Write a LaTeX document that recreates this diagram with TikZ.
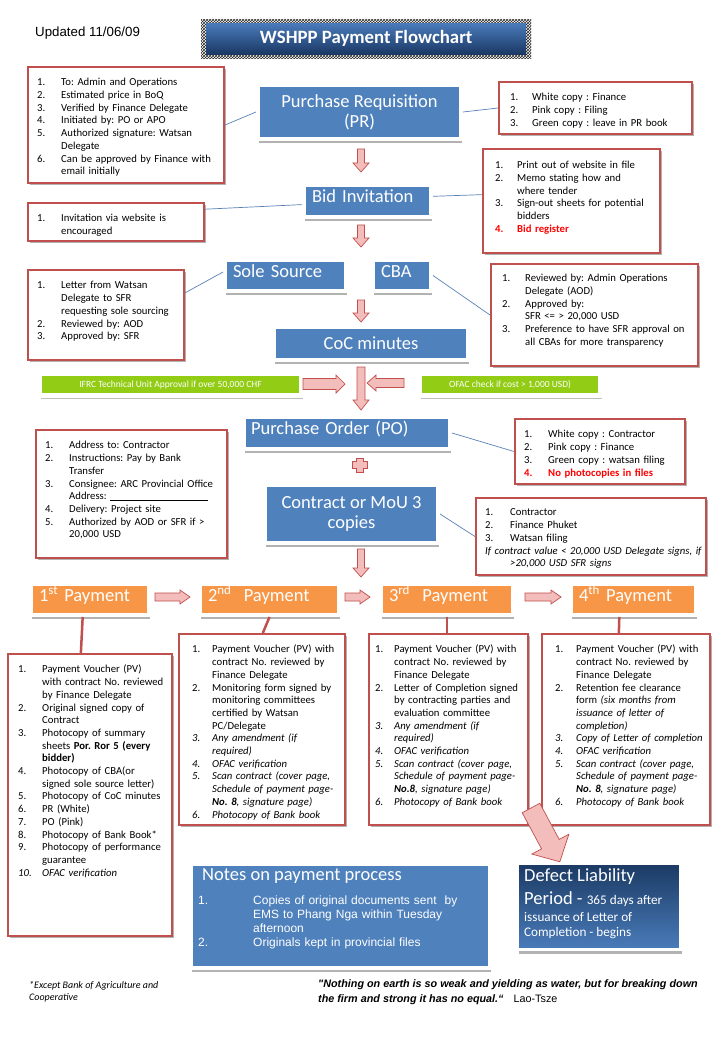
\documentclass[tikz,border=0pt]{standalone}
\usepackage{fontspec}
\setmainfont{Carlito}
\newfontfamily\arialf{Liberation Sans}
\usetikzlibrary{shadows,patterns,calc}

\definecolor{boxblue}{HTML}{4F81BD}
\definecolor{redline}{HTML}{C0504D}
\definecolor{payorange}{HTML}{F79646}
\definecolor{limegreen}{RGB}{146,204,20}
\definecolor{arrowpink}{HTML}{F3BDBC}
\definecolor{navy}{HTML}{1B3A63}
\definecolor{defbot}{HTML}{4A7CBB}
\definecolor{titletop}{HTML}{4A7BBB}
\definecolor{titlebot}{HTML}{1A3864}
\definecolor{redtext}{HTML}{FF0000}
\definecolor{connblue}{HTML}{5A82B8}

\newlength\itmw
\setlength\itmw{24pt}
\newcommand{\itm}[2]{\par\hangindent=\itmw\hangafter=1\noindent\makebox[\itmw][l]{#1}#2}
\newcommand{\cont}[1]{\par\hangindent=\itmw\hangafter=1\noindent #1}

% name, x, y, angle, length, half shaft, half head, head length
\newcommand{\barrow}[8]{%
\begin{scope}[shift={(#2,#3)},rotate=#4]
\filldraw[pinkarrow] (0,-#6) -- ({#5-#8},-#6) -- ({#5-#8},-#7) -- (#5,0) -- ({#5-#8},#7) -- ({#5-#8},#6) -- (0,#6) -- cycle;
\coordinate (#1) at (#5,0);
\end{scope}}

\begin{document}
\frenchspacing
\begin{tikzpicture}[x=1pt,y=-1pt,
  pinkarrow/.style={fill=arrowpink, draw=redline, line width=0.7pt, line join=miter},
  redbox/.style={draw=redline, line width=2pt, fill=white, anchor=north west, inner sep=0,
     drop shadow={shadow xshift=2pt,shadow yshift=-2pt,opacity=0.3,fill=black}},
  listtxt/.style={anchor=north west, inner sep=0, text width=250pt, align=left,
     font=\fontsize{10.7}{12.7}\selectfont},
  bluebox/.style={draw=white, line width=4pt, fill=boxblue, text=white, anchor=north west, inner sep=0,
     font=\fontsize{18.5}{20}\selectfont,
     drop shadow={shadow xshift=1pt,shadow yshift=-4pt,opacity=0.3,fill=black}},
  leftbox/.style={bluebox, align=left, inner xsep=8pt, text height=13pt, text depth=10pt},
  paybox/.style={leftbox, fill=payorange},
  greenbox/.style={draw=white, line width=5pt, fill=limegreen, text=white, anchor=north west, inner sep=0,
     font=\fontsize{9.5}{11}\selectfont,
     drop shadow={shadow xshift=1pt,shadow yshift=-3pt,opacity=0.25,fill=black}},
  conn/.style={draw=connblue, line width=0.7pt},
  paylink/.style={draw=redline, line width=2.5pt}
]
\useasboundingbox (0,0) rectangle (720,1040);
\fill[white] (0,0) rectangle (720,1040);

% header
\node[anchor=base west, inner sep=0, font=\arialf\fontsize{13.3}{15}\selectfont] (upd) at (35,37) {Updated 11/06/09};
\node[anchor=north west, inner sep=0, minimum width=330pt, minimum height=39pt,
      preaction={fill=white}, pattern=crosshatch, pattern color=black!85] (tframe) at (201,19) {};
\node[anchor=north west, inner sep=0, minimum width=320pt, minimum height=31pt,
      top color=titletop, bottom color=titlebot, text=white,
      font=\bfseries\fontsize{18.8}{20}\selectfont] (title) at (206,23) {WSHPP Payment Flowchart};

% red note boxes
\node[redbox, minimum width=196pt, minimum height=116pt] (b1) at (27,66) {};
\node[listtxt] (b1t) at (37,73) {%
\itm{1.}{To: Admin and Operations}
\itm{2.}{Estimated price in BoQ}
\itm{3.}{Verified by Finance Delegate}
\itm{4.}{Initiated by: PO or APO}
\itm{5.}{Authorized signature: Watsan\newline Delegate}
\itm{6.}{Can be approved by Finance with\newline email initially}\par};

\node[redbox, minimum width=193pt, minimum height=52pt] (rb1) at (498,81) {};
\node[listtxt] (rb1t) at (510,88) {\setlength\itmw{22pt}%
\itm{1.}{White copy : Finance}
\itm{2.}{Pink copy : Filing}
\itm{3.}{Green copy : leave in PR book}\par};

\node[redbox, minimum width=177pt, minimum height=104pt] (rb2) at (482,148) {};
\node[listtxt] (rb2t) at (495,156) {\setlength\itmw{22pt}%
\itm{1.}{Print out of website in file}
\itm{2.}{Memo stating how and\newline where tender}
\itm{3.}{Sign-out sheets for potential\newline bidders}
\itm{\textcolor{redtext}{\textbf{4.}}}{\textcolor{redtext}{\textbf{Bid register}}}\par};

\node[redbox, minimum width=176pt, minimum height=38pt] (lb2) at (27,202) {};
\node[listtxt] (lb2t) at (37,209) {%
\itm{1.}{Invitation via website is\newline encouraged}\par};

\node[redbox, minimum width=156pt, minimum height=90pt] (lb3) at (27,269) {};
\node[listtxt] (lb3t) at (37,276) {%
\itm{1.}{Letter from Watsan\newline Delegate to SFR\newline requesting sole sourcing}
\itm{2.}{Reviewed by: AOD}
\itm{3.}{Approved by: SFR}\par};

\node[redbox, minimum width=207pt, minimum height=102pt] (rb3) at (490,263) {};
\node[listtxt] (rb3t) at (502,269) {\setlength\itmw{23pt}%
\itm{1.}{Reviewed by: Admin Operations\newline Delegate (AOD)}
\itm{2.}{Approved by:\newline SFR <= > 20,000 USD}
\itm{3.}{Preference to have SFR approval on\newline all CBAs for more transparency}\par};

\node[redbox, minimum width=170pt, minimum height=65pt] (rb4) at (514,418) {};
\node[listtxt] (rb4t) at (524,425) {%
\itm{1.}{White copy : Contractor}
\itm{2.}{Pink copy : Finance}
\itm{3.}{Green copy : watsan filing}
\itm{\textcolor{redtext}{\textbf{4.}}}{\textcolor{redtext}{\textbf{No photocopies in files}}}\par};

\node[redbox, minimum width=191pt, minimum height=128pt] (lb4) at (35,429) {};
\node[listtxt] (lb4t) at (45,436) {%
\itm{1.}{Address to: Contractor}
\itm{2.}{Instructions: Pay by Bank\newline Transfer}
\itm{3.}{Consignee: ARC Provincial Office\newline Address: \rule[-1pt]{98pt}{0.5pt}}
\itm{4.}{Delivery: Project site}
\itm{5.}{Authorized by AOD or SFR if >\newline 20,000 USD}\par};

\node[redbox, minimum width=230pt, minimum height=77pt] (rb5) at (475,497) {};
\node[listtxt] (rb5t) at (485,503) {\setlength\itmw{25pt}%
\itm{1.}{Contractor}
\itm{2.}{Finance Phuket}
\itm{3.}{Watsan filing}
\cont{\textit{If contract value < 20,000 USD Delegate signs, if\newline >20,000 USD SFR signs}}\par};

% blue process boxes
\node[bluebox, minimum width=203pt, minimum height=54pt, align=center] (PR) at (256,83) {Purchase Requisition\\(PR)};
\node[leftbox, text width=111pt, minimum height=32pt] (bid) at (302,183) {Bid Invitation};
\node[leftbox, text width=105pt, minimum height=31pt] (sole) at (223,258) {Sole Source};
\node[leftbox, text width=42pt, minimum height=31pt] (cba) at (371,258) {CBA};
\node[bluebox, minimum width=194pt, minimum height=33pt] (coc) at (272,325) {CoC minutes};
\node[greenbox, minimum width=262pt, minimum height=22pt] (ifrc) at (37,371) {IFRC Technical Unit Approval if over 50,000 CHF};
\node[greenbox, minimum width=181pt, minimum height=22pt] (ofac) at (417,371) {OFAC check if cost > 1,000 USD)};
\node[leftbox, text width=192pt, inner xsep=7pt, minimum height=32pt] (po) at (242,415) {Purchase Order (PO)};
\node[bluebox, minimum width=173pt, minimum height=58pt, align=center] (con) at (263,483) {Contract or MoU 3\\copies};

% payment boxes
\node[paybox, text width=102pt, minimum height=31pt] (pay1) at (29,582) {1\textsuperscript{st} Payment};
\node[paybox, text width=123pt, minimum height=31pt] (pay2) at (198,582) {2\textsuperscript{nd}\ \ Payment};
\node[paybox, text width=116pt, minimum height=31pt] (pay3) at (379,582) {3\textsuperscript{rd}\ \ Payment};
\node[paybox, text width=109pt, minimum height=31pt] (pay4) at (569,582) {4\textsuperscript{th} Payment};

% payment lists
\node[redbox, minimum width=164pt, minimum height=282pt] (P1) at (7,653) {};
\node[listtxt] (P1t) at (18,660) {%
\itm{1.}{Payment Voucher (PV)\newline with contract No. reviewed\newline by Finance Delegate}
\itm{2.}{Original signed copy of\newline Contract}
\itm{3.}{Photocopy of summary\newline sheets \textbf{Por. Ror 5 (every\newline bidder)}}
\itm{4.}{Photocopy of CBA(or\newline signed sole source letter)}
\itm{5.}{Photocopy of CoC minutes}
\itm{6.}{PR (White)}
\itm{7.}{PO (Pink)}
\itm{8.}{Photocopy of Bank Book*}
\itm{9.}{Photocopy of performance\newline guarantee}
\itm{\textit{10.}}{\textit{OFAC verification}}\par};

\node[redbox, minimum width=166pt, minimum height=191pt] (P2) at (178,633) {};
\node[listtxt] (P2t) at (192,640) {\setlength\itmw{20pt}%
\itm{1.}{Payment Voucher (PV) with\newline contract No. reviewed by\newline Finance Delegate}
\itm{2.}{Monitoring form signed by\newline monitoring committees\newline certified by Watsan\newline PC/Delegate}
\itm{\textit{3.}}{\textit{Any amendment (if\newline required)}}
\itm{\textit{4.}}{\textit{OFAC verification}}
\itm{\textit{5.}}{\textit{Scan contract (cover page,\newline Schedule of payment page-\newline \textbf{No. 8}, signature page)}}
\itm{\textit{6.}}{\textit{Photocopy of Bank book}}\par};

\node[redbox, minimum width=159pt, minimum height=191pt] (P3) at (368,633) {};
\node[listtxt] (P3t) at (375,640) {\setlength\itmw{19pt}%
\itm{1.}{Payment Voucher (PV) with\newline contract No. reviewed by\newline Finance Delegate}
\itm{2.}{Letter of Completion signed\newline by contracting parties and\newline evaluation committee}
\itm{\textit{3.}}{\textit{Any amendment (if\newline required)}}
\itm{\textit{4.}}{\textit{OFAC verification}}
\itm{\textit{5.}}{\textit{Scan contract (cover page,\newline Schedule of payment page-\newline \textbf{No.8}, signature page)}}
\itm{\textit{6.}}{\textit{Photocopy of Bank book}}\par};

\node[redbox, minimum width=168pt, minimum height=191pt] (P4) at (541,633) {};
\node[listtxt] (P4t) at (555,640) {\setlength\itmw{21pt}%
\itm{1.}{Payment Voucher (PV) with\newline contract No. reviewed by\newline Finance Delegate}
\itm{2.}{Retention fee clearance\newline form \textit{(six months from\newline issuance of letter of\newline completion)}}
\itm{\textit{3.}}{\textit{Copy of Letter of completion}}
\itm{\textit{4.}}{\textit{OFAC verification}}
\itm{\textit{5.}}{\textit{Scan contract (cover page,\newline Schedule of payment page-\newline \textbf{No. 8}, signature page)}}
\itm{\textit{6.}}{\textit{Photocopy of Bank book}}\par};

% notes box
\node[bluebox, minimum width=299pt, minimum height=104pt] (notes) at (189,862) {};
\node[anchor=north west, inner sep=0, text=white, font=\fontsize{18.5}{20}\selectfont] (notest) at (202,868) {Notes on payment process};
\node[listtxt, text=white, text width=300pt, font=\arialf\fontsize{12}{14}\selectfont] (notesl) at (198,890.5) {\setlength\itmw{55pt}%
\itm{1.}{Copies of original documents sent\ \ by\newline EMS to Phang Nga within Tuesday\newline afternoon}
\itm{2.}{Originals kept in provincial files}\par};

% defect liability box
\node[anchor=north west, inner sep=0, minimum width=163pt, minimum height=86pt, draw=white, line width=3pt,
      top color=navy, bottom color=defbot,
      drop shadow={shadow xshift=1pt,shadow yshift=-4pt,opacity=0.3,fill=black}] (dlp) at (516,862) {};
\node[anchor=base west, inner sep=0, text=white, font=\fontsize{18.5}{20}\selectfont] (d1) at (524,881) {Defect Liability};
\node[anchor=base west, inner sep=0, text=white, font=\fontsize{18.5}{20}\selectfont] (d2) at (524,904) {Period - {\fontsize{13.2}{15}\selectfont 365 days after}};
\node[anchor=base west, inner sep=0, text=white, font=\fontsize{13.2}{15}\selectfont] (d3) at (524,921) {issuance of Letter of};
\node[anchor=base west, inner sep=0, text=white, font=\fontsize{13.2}{15}\selectfont] (d4) at (524,936) {Completion - begins};

% footer texts
\node[anchor=north west, inner sep=0, align=left, font=\itshape\fontsize{10}{12}\selectfont] (foot) at (29,981) {*Except Bank of Agriculture and\\Cooperative};
\node[anchor=north west, inner sep=0, align=left, font=\arialf\fontsize{10.8}{15}\selectfont] (quote) at (318,979)
  {\textbf{\textit{"Nothing on earth is so weak and yielding as water, but for breaking down}}\\
   \textbf{\textit{the firm and strong it has no equal.“}}\hspace{10pt}Lao-Tsze};

% thin connectors
\draw[conn] (b1.east) -- (PR.west);
\draw[conn] (PR.east) -- (rb1.west);
\draw[conn] ($(lb2.north east)!0.18!(lb2.south east)$) -- ($(bid.north west)!0.6!(bid.south west)$);
\draw[conn] ($(bid.north east)!0.37!(bid.south east)$) -- ($(rb2.north west)!0.44!(rb2.south west)$);
\draw[conn] ($(lb3.north east)!0.26!(lb3.south east)$) -- ($(sole.north west)!0.4!(sole.south west)$);
\draw[conn] (cba.east) -- (rb3.west);
\draw[conn] (po.east) -- (rb4.west);
\draw[conn] (con.east) -- (rb5.west);

% payment links
\draw[paylink] ($(pay1.south west)!0.44!(pay1.south east)$) -- ($(P1.north west)!0.445!(P1.north east)$);
\draw[paylink] (pay2.south) -- ($(P2.north west)!0.505!(P2.north east)$);
\draw[paylink] (pay3.south) -- (pay3.south |- P3.north);
\draw[paylink] ($(pay4.south west)!0.39!(pay4.south east)$) -- ($(P4.north west)!0.458!(P4.north east)$);

% block arrows
\barrow{a1}{361}{149}{-90}{23}{3.5}{8}{9}
\barrow{a2}{361}{225}{-90}{22}{3.5}{8}{9}
\barrow{a3}{361}{300}{-90}{22}{3.5}{8}{9}
\barrow{a4}{361}{367}{-90}{43}{4}{8}{10}
\barrow{a5}{361}{549}{-90}{28}{3.5}{8}{9}
\barrow{ar}{303}{384}{0}{42}{5.5}{9}{9}
\barrow{al}{404}{383}{180}{37}{4.5}{8}{9}
\barrow{p12}{155}{597}{0}{35}{4}{7}{10}
\barrow{p23}{345}{597}{0}{25}{4}{7}{10}
\barrow{p34}{525}{597}{0}{36}{4}{7}{10}
\barrow{big}{531}{808}{-61.8}{61}{10}{21}{20}
% plus shape
\filldraw[pinkarrow] (356,458) -- (363,458) -- (363,461.5) -- (367,461.5) -- (367,468.5) -- (363,468.5)
  -- (363,472) -- (356,472) -- (356,468.5) -- (352,468.5) -- (352,461.5) -- (356,461.5) -- cycle;
\end{tikzpicture}
\end{document}
